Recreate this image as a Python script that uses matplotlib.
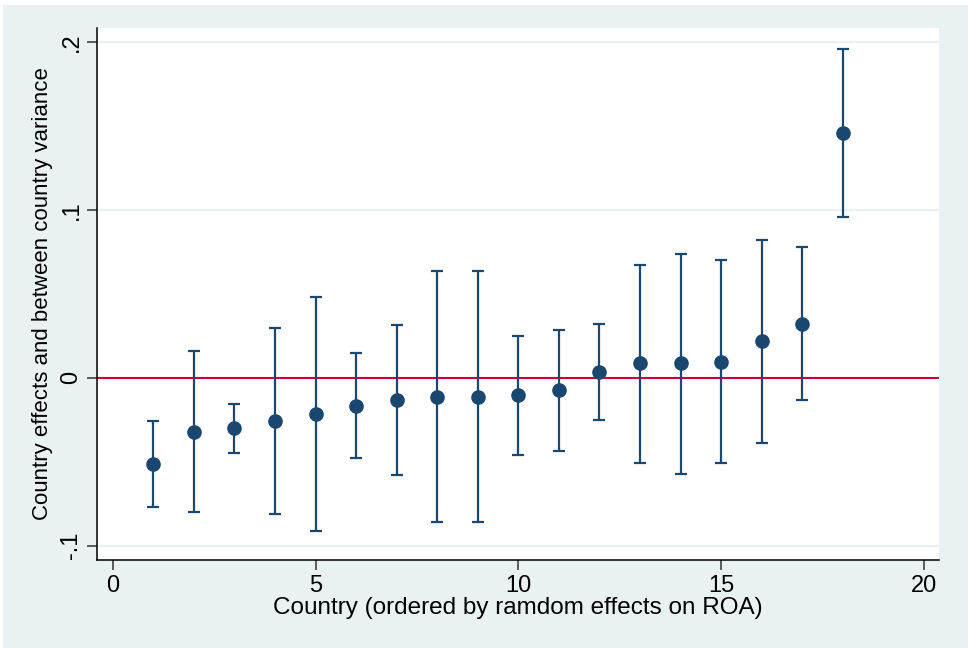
import matplotlib.pyplot as plt
import numpy as np

plt.rcParams['font.family'] = ['Liberation Sans', 'DejaVu Sans']

# country rank, estimated effect and interval bounds
country = list(range(1, 19))
effect = [-0.0516, -0.032, -0.030, -0.0255, -0.0214, -0.0166, -0.013, -0.0113, -0.0113,
          -0.010, -0.0071, 0.0036, 0.0089, 0.0089, 0.0095, 0.022, 0.032, 0.146]
upper = [-0.026, 0.016, -0.0155, 0.0297, 0.048, 0.0148, 0.0315, 0.0635, 0.0635,
         0.025, 0.0285, 0.032, 0.067, 0.0736, 0.070, 0.082, 0.0777, 0.196]
lower = [-0.077, -0.080, -0.045, -0.081, -0.091, -0.048, -0.0576, -0.086, -0.086,
         -0.0457, -0.0433, -0.025, -0.051, -0.057, -0.051, -0.0386, -0.013, 0.0955]

navy = '#1a476f'
bg = '#eaf1f3'

fig = plt.figure(figsize=(9.68, 6.48), dpi=100, facecolor='white')
# light outer region (thin white edge on top/left like the original export)
fig.patches.append(plt.Rectangle((3 / 968, 0), 1, 643 / 648, transform=fig.transFigure,
                                 facecolor=bg, edgecolor='none', zorder=-5))

ax = fig.add_axes([0.1002, 0.1358, 0.8698, 0.821])
ax.set_facecolor('white')

eff = np.array(effect)
err = [eff - np.array(lower), np.array(upper) - eff]
ax.errorbar(country, effect, yerr=err, fmt='o', color=navy, ecolor=navy,
            markersize=9.5, elinewidth=1.6, capsize=4.6, capthick=1.6, zorder=3)
ax.axhline(0, color='#c10534', lw=1.5, zorder=2)

ax.set_xlim(-0.387, 20.37)
ax.set_ylim(-0.1085, 0.2083)
ax.set_xticks([0, 5, 10, 15, 20])
ax.set_yticks([-0.1, 0, 0.1, 0.2])
ax.set_yticklabels(['-.1', '0', '.1', '.2'], rotation=90, va='center')
ax.yaxis.grid(True, color=bg, lw=1.5)
ax.set_axisbelow(True)

for s in ['top', 'right']:
    ax.spines[s].set_visible(False)
for s in ['left', 'bottom']:
    ax.spines[s].set_linewidth(1.1)
ax.tick_params(length=7, width=1.1, labelsize=17, color='#333333')

ax.set_xlabel('Country (ordered by ramdom effects on ROA)', fontsize=17.5, labelpad=0)
ax.set_ylabel('Country effects and between country variance', fontsize=16, labelpad=5)

fig.savefig('out.png', dpi=100, facecolor='white')
